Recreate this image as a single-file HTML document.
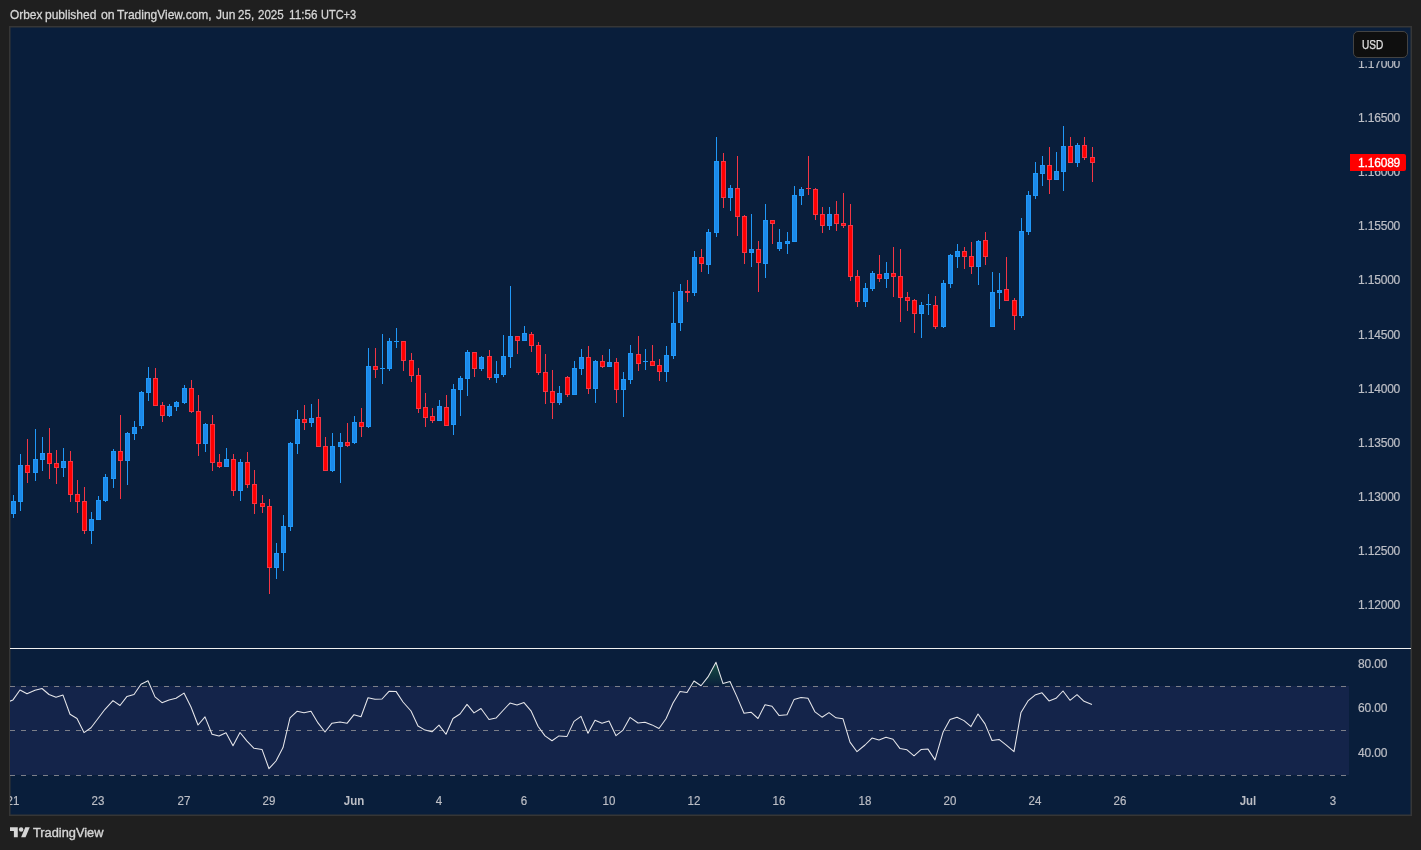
<!DOCTYPE html>
<html><head><meta charset="utf-8"><title>EURUSD chart</title>
<style>
html,body{margin:0;padding:0;background:#1f1f1f;}
body{width:1421px;height:850px;position:relative;overflow:hidden;font-family:"Liberation Sans",sans-serif;}
.txt{position:absolute;left:0;top:0;width:1421px;height:850px;will-change:transform;}
.hdr{position:absolute;left:10px;top:7px;font-size:13px;line-height:15px;color:#d6d6d6;white-space:nowrap;transform-origin:0 50%;-webkit-text-stroke:0.3px #d6d6d6;}
.chart{position:absolute;left:10px;top:27px;width:1401px;height:788px;background:#091e3b;overflow:hidden;}
svg.g{position:absolute;left:0;top:0;}
.pl{position:absolute;left:1358px;font-size:12px;line-height:14px;height:14px;color:#bcbec5;white-space:nowrap;letter-spacing:-0.18px;-webkit-text-stroke:0.2px #bcbec5;}
.tax{position:absolute;left:10px;top:780px;width:1401px;height:34px;overflow:hidden;}
.tl{position:absolute;top:14px;font-size:12.4px;line-height:14px;color:#bcbec5;white-space:nowrap;transform:translateX(-50%) scaleX(0.93);-webkit-text-stroke:0.2px #bcbec5;}
.usdbg{position:absolute;left:1353px;top:50px;width:54px;height:10.6px;background:#091e3b;}
.usd{position:absolute;left:1352.7px;top:30.5px;width:53px;height:25px;border:1px solid #434343;border-radius:5px;background:#0f0f0f;}
.usd span{position:absolute;left:8.5px;top:6.6px;-webkit-text-stroke:0.25px #e0e0e0;font-size:12px;line-height:14px;color:#e0e0e0;transform:scaleX(0.84);transform-origin:0 50%;}
.last{position:absolute;left:1350px;top:154px;width:56px;height:17px;background:#ff0000;border-radius:0 2px 2px 0;}
.last span{position:absolute;left:8px;top:2px;font-size:12px;line-height:14px;color:#fff;letter-spacing:-0.18px;-webkit-text-stroke:0.3px #fff;}
.tv{position:absolute;left:33px;top:825px;font-size:13px;line-height:16px;color:#d4d4d4;white-space:nowrap;-webkit-text-stroke:0.4px #d4d4d4;transform:scaleX(0.985);transform-origin:0 50%;}
</style></head><body>
<div class="chart"></div>
<svg class="g" width="1421" height="850" viewBox="0 0 1421 850">
<defs><clipPath id="cp"><rect x="10" y="649" width="1340" height="140"/></clipPath><linearGradient id="ob" x1="0" y1="662" x2="0" y2="686.5" gradientUnits="userSpaceOnUse"><stop offset="0" stop-color="#1f6f4a" stop-opacity="0.62"/><stop offset="1" stop-color="#1f6f4a" stop-opacity="0"/></linearGradient></defs>
<rect x="9.75" y="26.75" width="1401.5" height="788.5" fill="none" stroke="#363636" stroke-width="1.5"/>
<rect x="10" y="686" width="1339" height="89" fill="#14244a"/>
<path d="M10 686.5H1349" stroke="#7c7f89" stroke-width="1" stroke-dasharray="5 6" fill="none" shape-rendering="crispEdges"/><path d="M10 730.5H1349" stroke="#7c7f89" stroke-width="1" stroke-dasharray="5 6" fill="none" shape-rendering="crispEdges"/><path d="M10 775.5H1349" stroke="#7c7f89" stroke-width="1" stroke-dasharray="5 6" fill="none" shape-rendering="crispEdges"/>
<path d="M139.4 686.5 L141.0 684.2 L148.0 680.8 L150.5 686.5zM690.7 686.5 L694.0 681.0 L701.0 685.8 L708.0 676.9 L716.0 662.3 L723.0 683.6 L730.0 681.5 L732.3 686.5z" fill="url(#ob)"/>
<path d="M6.0 702.8 L13.0 699.9 L20.0 690.0 L27.0 693.8 L35.0 690.3 L42.0 688.5 L49.0 694.5 L56.0 697.3 L63.0 695.1 L70.0 714.3 L77.0 718.5 L84.0 732.6 L91.0 727.7 L98.0 718.5 L105.0 709.3 L113.0 700.6 L120.0 705.5 L127.0 696.4 L134.0 694.5 L141.0 684.2 L148.0 680.8 L155.0 696.9 L162.0 702.7 L169.0 699.9 L176.0 698.3 L184.0 693.1 L191.0 707.0 L198.0 725.0 L205.0 716.9 L212.0 734.2 L219.0 736.0 L226.0 732.7 L233.0 745.7 L240.0 732.5 L247.0 741.2 L254.0 748.3 L262.0 749.4 L269.0 768.7 L276.0 761.0 L283.0 747.6 L290.0 717.9 L297.0 711.3 L304.0 712.7 L311.0 711.2 L318.0 722.9 L325.0 732.0 L332.0 723.2 L340.0 721.9 L347.0 723.3 L354.0 714.7 L361.0 716.7 L368.0 697.7 L375.0 699.2 L382.0 699.0 L389.0 691.3 L396.0 691.4 L403.0 702.0 L411.0 711.0 L418.0 726.0 L425.0 730.1 L432.0 731.8 L439.0 725.1 L446.0 734.3 L453.0 718.5 L460.0 714.0 L467.0 704.4 L474.0 712.9 L481.0 708.5 L489.0 719.5 L496.0 718.1 L503.0 710.5 L510.0 703.1 L517.0 705.1 L524.0 702.6 L531.0 710.8 L538.0 726.3 L545.0 735.9 L552.0 740.7 L559.0 735.9 L567.0 736.4 L574.0 721.4 L581.0 716.4 L588.0 733.3 L595.0 720.3 L602.0 723.2 L609.0 721.1 L616.0 735.7 L623.0 730.1 L630.0 717.4 L638.0 723.0 L645.0 722.3 L652.0 724.9 L659.0 728.5 L666.0 718.8 L673.0 703.0 L680.0 691.4 L687.0 692.5 L694.0 681.0 L701.0 685.8 L708.0 676.9 L716.0 662.3 L723.0 683.6 L730.0 681.5 L737.0 696.9 L744.0 713.3 L751.0 712.2 L758.0 718.5 L765.0 704.7 L772.0 706.2 L779.0 715.4 L787.0 714.7 L794.0 699.6 L801.0 697.6 L808.0 698.3 L815.0 711.9 L822.0 717.2 L829.0 712.6 L836.0 717.8 L843.0 718.8 L850.0 742.1 L857.0 751.7 L865.0 745.0 L872.0 738.1 L879.0 740.0 L886.0 737.3 L893.0 739.3 L900.0 748.6 L907.0 749.8 L914.0 755.8 L921.0 749.6 L928.0 749.1 L935.0 759.9 L943.0 732.3 L950.0 719.6 L957.0 717.2 L964.0 720.6 L971.0 726.6 L978.0 714.0 L985.0 723.9 L992.0 740.5 L999.0 739.4 L1006.0 744.9 L1014.0 751.7 L1021.0 712.4 L1028.0 700.9 L1035.0 695.1 L1042.0 692.8 L1049.0 700.9 L1056.0 698.3 L1063.0 691.0 L1070.0 700.3 L1077.0 694.7 L1084.0 701.3 L1092.0 704.4" fill="none" stroke="#e6e6ea" stroke-width="1.05" clip-path="url(#cp)" stroke-linejoin="round"/>
<rect x="10" y="648" width="1401" height="1" fill="#f0f0f0" shape-rendering="crispEdges"/>
<g shape-rendering="crispEdges">
<path d="M13 495h1v23h-1zM20 454h1v57h-1zM35 429h1v52h-1zM42 437h1v34h-1zM63 448h1v29h-1zM91 512h1v32h-1zM98 496h1v24h-1zM105 474h1v28h-1zM113 449h1v39h-1zM127 432h1v53h-1zM134 421h1v19h-1zM141 391h1v38h-1zM148 367h1v34h-1zM169 404h1v13h-1zM176 401h1v10h-1zM184 385h1v19h-1zM205 423h1v29h-1zM226 448h1v19h-1zM240 459h1v42h-1zM276 543h1v36h-1zM283 515h1v56h-1zM290 442h1v89h-1zM297 410h1v44h-1zM311 404h1v23h-1zM332 433h1v39h-1zM340 433h1v50h-1zM354 416h1v28h-1zM368 348h1v80h-1zM382 334h1v50h-1zM389 338h1v33h-1zM396 328h1v20h-1zM439 400h1v21h-1zM453 384h1v51h-1zM460 376h1v40h-1zM467 350h1v46h-1zM481 356h1v15h-1zM496 361h1v22h-1zM503 335h1v42h-1zM510 286h1v82h-1zM524 326h1v15h-1zM559 386h1v19h-1zM574 361h1v34h-1zM581 349h1v26h-1zM595 360h1v43h-1zM609 349h1v18h-1zM623 372h1v45h-1zM630 345h1v39h-1zM645 349h1v21h-1zM666 346h1v36h-1zM673 292h1v67h-1zM680 284h1v47h-1zM694 251h1v45h-1zM708 229h1v45h-1zM716 137h1v100h-1zM730 185h1v26h-1zM751 214h1v53h-1zM765 204h1v74h-1zM779 229h1v22h-1zM787 232h1v22h-1zM794 186h1v56h-1zM801 187h1v18h-1zM829 207h1v23h-1zM865 283h1v24h-1zM872 271h1v20h-1zM886 262h1v26h-1zM921 302h1v36h-1zM928 294h1v21h-1zM943 280h1v48h-1zM950 254h1v34h-1zM957 244h1v24h-1zM978 240h1v45h-1zM992 272h1v55h-1zM999 273h1v36h-1zM1021 218h1v100h-1zM1028 191h1v44h-1zM1035 162h1v37h-1zM1042 156h1v30h-1zM1056 152h1v28h-1zM1063 126h1v65h-1zM1077 143h1v24h-1z" fill="#2098f8"/>
<path d="M27 439h1v44h-1zM49 428h1v51h-1zM56 450h1v34h-1zM70 451h1v51h-1zM77 480h1v33h-1zM84 487h1v47h-1zM120 415h1v84h-1zM155 368h1v38h-1zM162 402h1v20h-1zM191 380h1v33h-1zM198 395h1v61h-1zM212 415h1v56h-1zM219 454h1v14h-1zM233 454h1v42h-1zM247 452h1v36h-1zM254 470h1v44h-1zM262 495h1v18h-1zM269 499h1v95h-1zM304 405h1v25h-1zM318 399h1v48h-1zM325 437h1v34h-1zM347 423h1v24h-1zM361 408h1v29h-1zM375 348h1v30h-1zM403 341h1v30h-1zM411 353h1v29h-1zM418 368h1v45h-1zM425 393h1v34h-1zM432 408h1v15h-1zM446 395h1v31h-1zM474 352h1v25h-1zM489 350h1v30h-1zM517 336h1v18h-1zM531 332h1v20h-1zM538 342h1v33h-1zM545 354h1v50h-1zM552 370h1v49h-1zM567 376h1v21h-1zM588 346h1v48h-1zM602 355h1v13h-1zM616 358h1v45h-1zM638 336h1v35h-1zM652 345h1v21h-1zM659 359h1v22h-1zM687 280h1v22h-1zM701 249h1v23h-1zM723 153h1v55h-1zM737 156h1v80h-1zM744 215h1v49h-1zM758 241h1v51h-1zM772 220h1v24h-1zM808 156h1v39h-1zM815 188h1v32h-1zM822 207h1v26h-1zM836 201h1v30h-1zM843 193h1v35h-1zM850 204h1v77h-1zM857 270h1v37h-1zM879 255h1v27h-1zM893 247h1v50h-1zM900 249h1v73h-1zM907 292h1v19h-1zM914 299h1v34h-1zM935 296h1v33h-1zM964 247h1v22h-1zM971 242h1v32h-1zM985 232h1v33h-1zM1006 257h1v44h-1zM1014 298h1v32h-1zM1049 147h1v47h-1zM1070 137h1v26h-1zM1084 137h1v23h-1zM1092 147h1v35h-1z" fill="#f23645"/>
<path d="M11 501h5v13h-5zM18 465h5v37h-5zM33 459h5v14h-5zM40 453h5v7h-5zM61 461h5v7h-5zM89 519h5v12h-5zM96 500h5v20h-5zM103 477h5v24h-5zM111 451h5v28h-5zM125 433h5v28h-5zM132 427h5v7h-5zM139 392h5v34h-5zM146 378h5v15h-5zM167 406h5v10h-5zM174 402h5v5h-5zM182 388h5v15h-5zM203 424h5v20h-5zM224 459h5v8h-5zM238 462h5v29h-5zM274 553h5v15h-5zM281 526h5v27h-5zM288 443h5v84h-5zM295 419h5v25h-5zM309 418h5v5h-5zM330 446h5v25h-5zM338 442h5v5h-5zM352 422h5v21h-5zM366 366h5v61h-5zM380 368h5v1h-5zM387 341h5v28h-5zM394 341h5v1h-5zM437 406h5v15h-5zM451 389h5v36h-5zM458 378h5v12h-5zM465 352h5v27h-5zM479 357h5v12h-5zM494 374h5v4h-5zM501 356h5v19h-5zM508 336h5v21h-5zM522 333h5v8h-5zM557 393h5v10h-5zM572 368h5v27h-5zM579 357h5v12h-5zM593 361h5v28h-5zM607 362h5v5h-5zM621 379h5v11h-5zM628 353h5v27h-5zM643 361h5v1h-5zM664 355h5v17h-5zM671 323h5v33h-5zM678 291h5v32h-5zM692 257h5v36h-5zM706 232h5v33h-5zM714 161h5v72h-5zM728 188h5v10h-5zM749 249h5v4h-5zM763 220h5v44h-5zM777 242h5v7h-5zM785 241h5v3h-5zM792 195h5v47h-5zM799 189h5v7h-5zM827 214h5v12h-5zM863 288h5v14h-5zM870 273h5v16h-5zM884 273h5v6h-5zM919 305h5v9h-5zM926 304h5v1h-5zM941 283h5v44h-5zM948 255h5v29h-5zM955 251h5v6h-5zM976 241h5v26h-5zM990 292h5v35h-5zM997 290h5v3h-5zM1019 231h5v85h-5zM1026 195h5v37h-5zM1033 173h5v23h-5zM1040 165h5v9h-5zM1054 171h5v9h-5zM1061 146h5v26h-5zM1075 145h5v18h-5z" fill="#2098f8"/><path d="M12 502h3v11h-3zM19 466h3v35h-3zM34 460h3v12h-3zM41 454h3v5h-3zM62 462h3v5h-3zM90 520h3v10h-3zM97 501h3v18h-3zM104 478h3v22h-3zM112 452h3v26h-3zM126 434h3v26h-3zM133 428h3v5h-3zM140 393h3v32h-3zM147 379h3v13h-3zM168 407h3v8h-3zM175 403h3v3h-3zM183 389h3v13h-3zM204 425h3v18h-3zM225 460h3v6h-3zM239 463h3v27h-3zM275 554h3v13h-3zM282 527h3v25h-3zM289 444h3v82h-3zM296 420h3v23h-3zM310 419h3v3h-3zM331 447h3v23h-3zM339 443h3v3h-3zM353 423h3v19h-3zM367 367h3v59h-3zM388 342h3v26h-3zM438 407h3v13h-3zM452 390h3v34h-3zM459 379h3v10h-3zM466 353h3v25h-3zM480 358h3v10h-3zM495 375h3v2h-3zM502 357h3v17h-3zM509 337h3v19h-3zM523 334h3v6h-3zM558 394h3v8h-3zM573 369h3v25h-3zM580 358h3v10h-3zM594 362h3v26h-3zM608 363h3v3h-3zM622 380h3v9h-3zM629 354h3v25h-3zM665 356h3v15h-3zM672 324h3v31h-3zM679 292h3v30h-3zM693 258h3v34h-3zM707 233h3v31h-3zM715 162h3v70h-3zM729 189h3v8h-3zM750 250h3v2h-3zM764 221h3v42h-3zM778 243h3v5h-3zM786 242h3v1h-3zM793 196h3v45h-3zM800 190h3v5h-3zM828 215h3v10h-3zM864 289h3v12h-3zM871 274h3v14h-3zM885 274h3v4h-3zM920 306h3v7h-3zM942 284h3v42h-3zM949 256h3v27h-3zM956 252h3v4h-3zM977 242h3v24h-3zM991 293h3v33h-3zM998 291h3v1h-3zM1020 232h3v83h-3zM1027 196h3v35h-3zM1034 174h3v21h-3zM1041 166h3v7h-3zM1055 172h3v7h-3zM1062 147h3v24h-3zM1076 146h3v16h-3z" fill="#1c8aea"/>
<path d="M25 465h5v8h-5zM47 453h5v11h-5zM54 463h5v5h-5zM68 461h5v34h-5zM75 494h5v8h-5zM82 501h5v30h-5zM118 451h5v10h-5zM153 378h5v28h-5zM160 405h5v11h-5zM189 388h5v24h-5zM196 411h5v33h-5zM210 424h5v39h-5zM217 462h5v5h-5zM231 459h5v32h-5zM245 462h5v23h-5zM252 484h5v20h-5zM260 503h5v4h-5zM267 506h5v62h-5zM302 419h5v4h-5zM316 417h5v30h-5zM323 446h5v25h-5zM345 442h5v4h-5zM359 422h5v5h-5zM373 366h5v4h-5zM401 341h5v20h-5zM409 360h5v16h-5zM416 375h5v34h-5zM423 407h5v11h-5zM430 416h5v5h-5zM444 407h5v19h-5zM472 352h5v17h-5zM487 356h5v22h-5zM515 336h5v5h-5zM529 334h5v12h-5zM536 345h5v28h-5zM543 372h5v20h-5zM550 391h5v12h-5zM565 377h5v18h-5zM586 357h5v32h-5zM600 361h5v6h-5zM614 362h5v28h-5zM636 354h5v10h-5zM650 361h5v5h-5zM657 365h5v7h-5zM685 291h5v2h-5zM699 257h5v7h-5zM721 161h5v37h-5zM735 188h5v29h-5zM742 216h5v37h-5zM756 249h5v14h-5zM770 220h5v4h-5zM806 188h5v1h-5zM813 189h5v26h-5zM820 214h5v12h-5zM834 214h5v10h-5zM841 223h5v3h-5zM848 225h5v52h-5zM855 276h5v26h-5zM877 274h5v5h-5zM891 273h5v4h-5zM898 276h5v22h-5zM905 297h5v4h-5zM912 300h5v14h-5zM933 305h5v22h-5zM962 251h5v6h-5zM969 256h5v11h-5zM983 240h5v17h-5zM1004 289h5v12h-5zM1012 300h5v16h-5zM1047 165h5v15h-5zM1068 146h5v17h-5zM1082 145h5v13h-5zM1090 157h5v6h-5z" fill="#f23645"/><path d="M26 466h3v6h-3zM48 454h3v9h-3zM55 464h3v3h-3zM69 462h3v32h-3zM76 495h3v6h-3zM83 502h3v28h-3zM119 452h3v8h-3zM154 379h3v26h-3zM161 406h3v9h-3zM190 389h3v22h-3zM197 412h3v31h-3zM211 425h3v37h-3zM218 463h3v3h-3zM232 460h3v30h-3zM246 463h3v21h-3zM253 485h3v18h-3zM261 504h3v2h-3zM268 507h3v60h-3zM303 420h3v2h-3zM317 418h3v28h-3zM324 447h3v23h-3zM346 443h3v2h-3zM360 423h3v3h-3zM374 367h3v2h-3zM402 342h3v18h-3zM410 361h3v14h-3zM417 376h3v32h-3zM424 408h3v9h-3zM431 417h3v3h-3zM445 408h3v17h-3zM473 353h3v15h-3zM488 357h3v20h-3zM516 337h3v3h-3zM530 335h3v10h-3zM537 346h3v26h-3zM544 373h3v18h-3zM551 392h3v10h-3zM566 378h3v16h-3zM587 358h3v30h-3zM601 362h3v4h-3zM615 363h3v26h-3zM637 355h3v8h-3zM651 362h3v3h-3zM658 366h3v5h-3zM700 258h3v5h-3zM722 162h3v35h-3zM736 189h3v27h-3zM743 217h3v35h-3zM757 250h3v12h-3zM771 221h3v2h-3zM814 190h3v24h-3zM821 215h3v10h-3zM835 215h3v8h-3zM842 224h3v1h-3zM849 226h3v50h-3zM856 277h3v24h-3zM878 275h3v3h-3zM892 274h3v2h-3zM899 277h3v20h-3zM906 298h3v2h-3zM913 301h3v12h-3zM934 306h3v20h-3zM963 252h3v4h-3zM970 257h3v9h-3zM984 241h3v15h-3zM1005 290h3v10h-3zM1013 301h3v14h-3zM1048 166h3v13h-3zM1069 147h3v15h-3zM1083 146h3v11h-3zM1091 158h3v4h-3z" fill="#ff0000"/>
</g>
<g transform="translate(10,825) scale(0.5556)" fill="#d6d6d6"><path d="M14 22H7V11H0V4h14v18z"/><path d="M28 22h-8l7.5-18h8L28 22z"/><circle cx="20" cy="8" r="4"/></g>
</svg>
<div class="txt">
<div class="hdr" style="left:9.50px;transform:scaleX(0.9150)">Orbex</div><div class="hdr" style="left:45.40px;transform:scaleX(0.9235)">published</div><div class="hdr" style="left:100.50px;transform:scaleX(0.9468)">on</div><div class="hdr" style="left:117.20px;transform:scaleX(0.9229)">TradingView.com,</div><div class="hdr" style="left:215.60px;transform:scaleX(0.9204)">Jun</div><div class="hdr" style="left:238.30px;transform:scaleX(0.8905)">25,</div><div class="hdr" style="left:258.40px;transform:scaleX(0.8887)">2025</div><div class="hdr" style="left:288.50px;transform:scaleX(0.8993)">11:56</div><div class="hdr" style="left:320.60px;transform:scaleX(0.8448)">UTC+3</div>
<div class="pl" style="top:57px">1.17000</div>
<div class="pl" style="top:111px">1.16500</div>
<div class="pl" style="top:165px">1.16000</div>
<div class="pl" style="top:219px">1.15500</div>
<div class="pl" style="top:273px">1.15000</div>
<div class="pl" style="top:328px">1.14500</div>
<div class="pl" style="top:382px">1.14000</div>
<div class="pl" style="top:436px">1.13500</div>
<div class="pl" style="top:490px">1.13000</div>
<div class="pl" style="top:544px">1.12500</div>
<div class="pl" style="top:598px">1.12000</div>
<div class="pl" style="top:657px;letter-spacing:-0.15px">80.00</div>
<div class="pl" style="top:701px;letter-spacing:-0.15px">60.00</div>
<div class="pl" style="top:746px;letter-spacing:-0.15px">40.00</div>
<div class="tax">
<div class="tl" style="left:3px">21</div>
<div class="tl" style="left:88px">23</div>
<div class="tl" style="left:174px">27</div>
<div class="tl" style="left:259px">29</div>
<div class="tl" style="left:344px;font-weight:bold;-webkit-text-stroke:0">Jun</div>
<div class="tl" style="left:429px">4</div>
<div class="tl" style="left:514px">6</div>
<div class="tl" style="left:599px">10</div>
<div class="tl" style="left:684px">12</div>
<div class="tl" style="left:769px">16</div>
<div class="tl" style="left:855px">18</div>
<div class="tl" style="left:940px">20</div>
<div class="tl" style="left:1025px">24</div>
<div class="tl" style="left:1110px">26</div>
<div class="tl" style="left:1238px;font-weight:bold;-webkit-text-stroke:0">Jul</div>
<div class="tl" style="left:1323px">3</div>
</div>
<div class="usdbg"></div><div class="usd"><span>USD</span></div>
<div class="last"><span>1.16089</span></div>
<div class="tv">TradingView</div>
</div>
</body></html>
